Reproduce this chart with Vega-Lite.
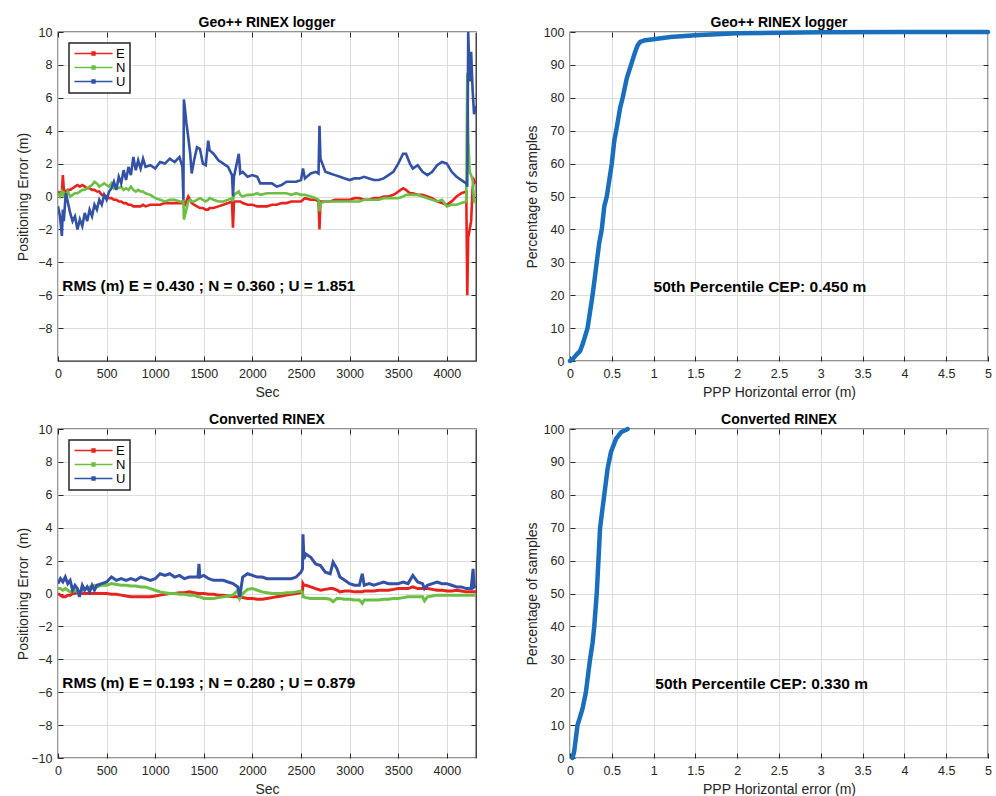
{
  "$schema": "https://vega.github.io/schema/vega-lite/v6.json",
  "background": "white",
  "padding": {"left": 15, "top": 15, "right": 4, "bottom": 2},
  "config": {
    "font": "Liberation Sans",
    "view": {"stroke": "#262626", "strokeWidth": 1.3},
    "axis": {"domain": false, "grid": true, "gridColor": "#dcdcdc", "gridWidth": 1, "ticks": true, "tickColor": "#262626", "tickSize": -5, "tickWidth": 1, "labelColor": "#262626", "labelFontSize": 12.5, "labelPadding": 11, "titleColor": "#262626", "titleFontSize": 14, "titleFontWeight": "normal", "titlePadding": 4, "labelFlush": false, "labelOverlap": false},
    "axisX": {"labelPadding": 11, "titlePadding": 6},
    "title": {"fontSize": 14, "fontWeight": "bold", "color": "#000000", "offset": -4},
    "legend": {"orient": "top-left", "offset": 11, "padding": 4, "strokeColor": "#262626", "strokeWidth": 1.5, "fillColor": "white", "labelFontSize": 13, "labelColor": "#000000", "symbolType": "M-1,0H6.6M2.5,-0.3H3.1V0.3H2.5Z", "symbolSize": 100, "symbolStrokeWidth": 1.4, "labelOffset": 30, "rowPadding": 0, "title": null}
  },
  "datasets": {
    "ts": [
      {"p":"Geo","t":0,"E":0.3,"N":0.2,"U":-0.6},
      {"p":"Geo","t":20,"E":0.2,"N":0.0,"U":-1.2},
      {"p":"Geo","t":40,"E":0.3,"N":0.3,"U":-2.4},
      {"p":"Geo","t":50,"E":1.3,"N":0.1,"U":-0.8},
      {"p":"Geo","t":60,"E":0.4,"N":0.2,"U":-1.5},
      {"p":"Geo","t":80,"E":0.3,"N":-0.1,"U":0.2},
      {"p":"Geo","t":100,"E":0.4,"N":0.3,"U":-0.3},
      {"p":"Geo","t":125,"E":0.4,"N":0.0,"U":-1.0},
      {"p":"Geo","t":150,"E":0.5,"N":0.1,"U":-1.5},
      {"p":"Geo","t":175,"E":0.6,"N":0.2,"U":-1.2},
      {"p":"Geo","t":200,"E":0.7,"N":0.2,"U":-2.0},
      {"p":"Geo","t":225,"E":0.6,"N":0.3,"U":-1.4},
      {"p":"Geo","t":250,"E":0.7,"N":0.4,"U":-1.8},
      {"p":"Geo","t":275,"E":0.6,"N":0.4,"U":-1.0},
      {"p":"Geo","t":300,"E":0.5,"N":0.5,"U":-1.5},
      {"p":"Geo","t":325,"E":0.5,"N":0.6,"U":-0.8},
      {"p":"Geo","t":350,"E":0.4,"N":0.7,"U":-1.2},
      {"p":"Geo","t":375,"E":0.4,"N":0.9,"U":-0.5},
      {"p":"Geo","t":400,"E":0.3,"N":0.8,"U":-0.8},
      {"p":"Geo","t":425,"E":0.3,"N":0.6,"U":-0.2},
      {"p":"Geo","t":450,"E":0.1,"N":0.7,"U":-0.5},
      {"p":"Geo","t":475,"E":0.1,"N":0.8,"U":0.1},
      {"p":"Geo","t":500,"E":0.0,"N":0.7,"U":-0.2},
      {"p":"Geo","t":525,"E":-0.1,"N":0.6,"U":0.3},
      {"p":"Geo","t":550,"E":-0.1,"N":0.8,"U":0.5},
      {"p":"Geo","t":575,"E":-0.2,"N":0.5,"U":0.9},
      {"p":"Geo","t":600,"E":-0.2,"N":0.6,"U":0.4},
      {"p":"Geo","t":625,"E":-0.3,"N":0.5,"U":1.2},
      {"p":"Geo","t":650,"E":-0.3,"N":0.6,"U":0.8},
      {"p":"Geo","t":675,"E":-0.4,"N":0.4,"U":1.6},
      {"p":"Geo","t":700,"E":-0.4,"N":0.5,"U":1.0},
      {"p":"Geo","t":725,"E":-0.5,"N":0.4,"U":1.8},
      {"p":"Geo","t":750,"E":-0.5,"N":0.6,"U":1.3},
      {"p":"Geo","t":775,"E":-0.6,"N":0.4,"U":2.4},
      {"p":"Geo","t":800,"E":-0.6,"N":0.3,"U":1.6},
      {"p":"Geo","t":825,"E":-0.6,"N":0.4,"U":2.2},
      {"p":"Geo","t":850,"E":-0.6,"N":0.3,"U":1.7},
      {"p":"Geo","t":875,"E":-0.5,"N":0.3,"U":2.3},
      {"p":"Geo","t":900,"E":-0.6,"N":0.2,"U":1.8},
      {"p":"Geo","t":950,"E":-0.5,"N":0.1,"U":1.9},
      {"p":"Geo","t":1000,"E":-0.5,"N":-0.1,"U":1.7},
      {"p":"Geo","t":1050,"E":-0.5,"N":-0.2,"U":2.1},
      {"p":"Geo","t":1100,"E":-0.4,"N":-0.3,"U":2.0},
      {"p":"Geo","t":1150,"E":-0.4,"N":-0.2,"U":2.3},
      {"p":"Geo","t":1200,"E":-0.4,"N":-0.2,"U":2.1},
      {"p":"Geo","t":1250,"E":-0.4,"N":-0.3,"U":2.4},
      {"p":"Geo","t":1280,"E":-0.4,"N":-0.3,"U":1.8},
      {"p":"Geo","t":1290,"E":-0.2,"N":-0.3,"U":-0.2},
      {"p":"Geo","t":1295,"E":-0.4,"N":-1.4,"U":5.9},
      {"p":"Geo","t":1305,"E":-0.5,"N":-1.2,"U":5.4},
      {"p":"Geo","t":1320,"E":-0.3,"N":-0.8,"U":4.5},
      {"p":"Geo","t":1340,"E":0.0,"N":-0.3,"U":3.6},
      {"p":"Geo","t":1360,"E":-0.2,"N":-0.2,"U":2.6},
      {"p":"Geo","t":1375,"E":-0.4,"N":-0.3,"U":1.4},
      {"p":"Geo","t":1400,"E":-0.5,"N":-0.3,"U":2.2},
      {"p":"Geo","t":1430,"E":-0.6,"N":-0.2,"U":3.0},
      {"p":"Geo","t":1460,"E":-0.7,"N":-0.1,"U":2.9},
      {"p":"Geo","t":1490,"E":-0.7,"N":-0.2,"U":2.0},
      {"p":"Geo","t":1520,"E":-0.8,"N":-0.3,"U":1.9},
      {"p":"Geo","t":1545,"E":-0.8,"N":-0.2,"U":3.4},
      {"p":"Geo","t":1560,"E":-0.7,"N":-0.1,"U":2.8},
      {"p":"Geo","t":1600,"E":-0.7,"N":-0.2,"U":2.6},
      {"p":"Geo","t":1650,"E":-0.6,"N":-0.3,"U":2.2},
      {"p":"Geo","t":1700,"E":-0.5,"N":-0.3,"U":2.0},
      {"p":"Geo","t":1750,"E":-0.4,"N":-0.2,"U":1.8},
      {"p":"Geo","t":1790,"E":-0.3,"N":-0.1,"U":1.3},
      {"p":"Geo","t":1800,"E":-1.9,"N":-0.3,"U":0.0},
      {"p":"Geo","t":1810,"E":-0.3,"N":0.1,"U":1.2},
      {"p":"Geo","t":1860,"E":-0.3,"N":0.3,"U":2.6},
      {"p":"Geo","t":1875,"E":-0.3,"N":0.1,"U":1.4},
      {"p":"Geo","t":1900,"E":-0.4,"N":0.0,"U":1.5},
      {"p":"Geo","t":1950,"E":-0.5,"N":0.1,"U":1.2},
      {"p":"Geo","t":2000,"E":-0.5,"N":0.1,"U":1.3},
      {"p":"Geo","t":2050,"E":-0.6,"N":0.2,"U":1.2},
      {"p":"Geo","t":2080,"E":-0.6,"N":0.1,"U":0.8},
      {"p":"Geo","t":2150,"E":-0.6,"N":0.2,"U":0.8},
      {"p":"Geo","t":2200,"E":-0.5,"N":0.2,"U":0.8},
      {"p":"Geo","t":2250,"E":-0.5,"N":0.2,"U":0.6},
      {"p":"Geo","t":2300,"E":-0.4,"N":0.2,"U":0.7},
      {"p":"Geo","t":2350,"E":-0.4,"N":0.2,"U":0.9},
      {"p":"Geo","t":2400,"E":-0.3,"N":0.1,"U":0.9},
      {"p":"Geo","t":2450,"E":-0.3,"N":0.2,"U":0.9},
      {"p":"Geo","t":2500,"E":-0.3,"N":0.1,"U":1.0},
      {"p":"Geo","t":2520,"E":-0.2,"N":0.1,"U":1.7},
      {"p":"Geo","t":2540,"E":-0.1,"N":0.1,"U":1.1},
      {"p":"Geo","t":2600,"E":-0.2,"N":0.0,"U":1.4},
      {"p":"Geo","t":2650,"E":-0.2,"N":-0.1,"U":1.5},
      {"p":"Geo","t":2680,"E":-0.3,"N":-0.2,"U":1.4},
      {"p":"Geo","t":2690,"E":-2.0,"N":-0.9,"U":4.3},
      {"p":"Geo","t":2700,"E":-0.3,"N":-0.4,"U":2.3},
      {"p":"Geo","t":2750,"E":-0.3,"N":-0.3,"U":1.5},
      {"p":"Geo","t":2800,"E":-0.3,"N":-0.3,"U":1.4},
      {"p":"Geo","t":2850,"E":-0.2,"N":-0.3,"U":1.3},
      {"p":"Geo","t":2900,"E":-0.2,"N":-0.3,"U":1.2},
      {"p":"Geo","t":2950,"E":-0.2,"N":-0.3,"U":1.1},
      {"p":"Geo","t":3000,"E":-0.2,"N":-0.3,"U":1.0},
      {"p":"Geo","t":3050,"E":-0.1,"N":-0.3,"U":1.1},
      {"p":"Geo","t":3100,"E":-0.1,"N":-0.3,"U":1.1},
      {"p":"Geo","t":3150,"E":-0.2,"N":-0.2,"U":1.2},
      {"p":"Geo","t":3200,"E":-0.2,"N":-0.2,"U":1.1},
      {"p":"Geo","t":3250,"E":-0.1,"N":-0.2,"U":1.0},
      {"p":"Geo","t":3300,"E":-0.1,"N":-0.2,"U":1.0},
      {"p":"Geo","t":3350,"E":0.0,"N":-0.1,"U":1.1},
      {"p":"Geo","t":3400,"E":0.0,"N":-0.1,"U":1.3},
      {"p":"Geo","t":3450,"E":0.1,"N":-0.1,"U":1.5},
      {"p":"Geo","t":3480,"E":0.2,"N":-0.1,"U":1.8},
      {"p":"Geo","t":3500,"E":0.3,"N":-0.1,"U":2.0},
      {"p":"Geo","t":3550,"E":0.5,"N":0.0,"U":2.6},
      {"p":"Geo","t":3580,"E":0.4,"N":0.1,"U":2.6},
      {"p":"Geo","t":3620,"E":0.2,"N":0.1,"U":2.0},
      {"p":"Geo","t":3650,"E":0.2,"N":0.1,"U":1.7},
      {"p":"Geo","t":3700,"E":0.1,"N":0.1,"U":1.9},
      {"p":"Geo","t":3750,"E":0.1,"N":0.0,"U":1.5},
      {"p":"Geo","t":3800,"E":0.0,"N":-0.1,"U":1.3},
      {"p":"Geo","t":3850,"E":-0.1,"N":-0.2,"U":1.5},
      {"p":"Geo","t":3900,"E":-0.3,"N":-0.3,"U":1.9},
      {"p":"Geo","t":3950,"E":-0.4,"N":-0.2,"U":2.1},
      {"p":"Geo","t":4000,"E":-0.5,"N":-0.6,"U":2.0},
      {"p":"Geo","t":4050,"E":-0.3,"N":-0.5,"U":1.5},
      {"p":"Geo","t":4100,"E":0.0,"N":-0.5,"U":1.2},
      {"p":"Geo","t":4150,"E":0.2,"N":-0.4,"U":1.0},
      {"p":"Geo","t":4200,"E":0.3,"N":-0.3,"U":0.8},
      {"p":"Geo","t":4210,"E":-6.0,"N":7.5,"U":0.6},
      {"p":"Geo","t":4220,"E":-2.5,"N":3.5,"U":10.0},
      {"p":"Geo","t":4235,"E":-2.0,"N":1.5,"U":7.0},
      {"p":"Geo","t":4250,"E":-1.5,"N":1.3,"U":8.8},
      {"p":"Geo","t":4265,"E":0.5,"N":1.0,"U":6.5},
      {"p":"Geo","t":4280,"E":1.0,"N":-0.3,"U":5.0},
      {"p":"Geo","t":4300,"E":0.8,"N":-0.4,"U":5.5},
      {"p":"Conv","t":0,"E":0.0,"N":0.3,"U":0.6},
      {"p":"Conv","t":25,"E":-0.1,"N":0.3,"U":0.9},
      {"p":"Conv","t":50,"E":-0.2,"N":0.2,"U":0.7},
      {"p":"Conv","t":75,"E":-0.2,"N":0.3,"U":1.0},
      {"p":"Conv","t":100,"E":-0.1,"N":0.2,"U":0.6},
      {"p":"Conv","t":125,"E":-0.1,"N":0.1,"U":0.8},
      {"p":"Conv","t":150,"E":0.0,"N":0.1,"U":0.2},
      {"p":"Conv","t":175,"E":0.0,"N":0.2,"U":0.5},
      {"p":"Conv","t":200,"E":0.05,"N":0.1,"U":0.3},
      {"p":"Conv","t":220,"E":0.0,"N":0.0,"U":-0.2},
      {"p":"Conv","t":250,"E":0.0,"N":0.2,"U":0.5},
      {"p":"Conv","t":275,"E":0.0,"N":0.3,"U":0.2},
      {"p":"Conv","t":300,"E":0.0,"N":0.3,"U":0.4},
      {"p":"Conv","t":325,"E":0.0,"N":0.4,"U":0.1},
      {"p":"Conv","t":350,"E":0.0,"N":0.4,"U":0.5},
      {"p":"Conv","t":375,"E":0.0,"N":0.5,"U":0.2},
      {"p":"Conv","t":400,"E":0.0,"N":0.4,"U":0.5},
      {"p":"Conv","t":450,"E":0.0,"N":0.5,"U":0.6},
      {"p":"Conv","t":500,"E":0.0,"N":0.5,"U":0.7},
      {"p":"Conv","t":550,"E":-0.05,"N":0.6,"U":1.0},
      {"p":"Conv","t":600,"E":-0.05,"N":0.55,"U":0.8},
      {"p":"Conv","t":650,"E":-0.1,"N":0.5,"U":0.9},
      {"p":"Conv","t":700,"E":-0.15,"N":0.5,"U":0.8},
      {"p":"Conv","t":750,"E":-0.2,"N":0.45,"U":0.9},
      {"p":"Conv","t":800,"E":-0.2,"N":0.45,"U":0.8},
      {"p":"Conv","t":850,"E":-0.2,"N":0.4,"U":1.0},
      {"p":"Conv","t":900,"E":-0.2,"N":0.4,"U":0.9},
      {"p":"Conv","t":950,"E":-0.2,"N":0.3,"U":0.8},
      {"p":"Conv","t":1000,"E":-0.15,"N":0.2,"U":0.9},
      {"p":"Conv","t":1050,"E":-0.1,"N":0.1,"U":1.2},
      {"p":"Conv","t":1100,"E":-0.05,"N":0.05,"U":1.1},
      {"p":"Conv","t":1150,"E":0.0,"N":0.0,"U":1.2},
      {"p":"Conv","t":1200,"E":0.0,"N":0.0,"U":1.0},
      {"p":"Conv","t":1250,"E":0.05,"N":-0.05,"U":1.1},
      {"p":"Conv","t":1300,"E":0.05,"N":-0.05,"U":0.9},
      {"p":"Conv","t":1350,"E":0.1,"N":-0.1,"U":1.0},
      {"p":"Conv","t":1400,"E":0.05,"N":-0.1,"U":1.0},
      {"p":"Conv","t":1440,"E":0.0,"N":-0.2,"U":1.0},
      {"p":"Conv","t":1450,"E":0.0,"N":-0.2,"U":1.8},
      {"p":"Conv","t":1460,"E":0.0,"N":-0.2,"U":1.0},
      {"p":"Conv","t":1500,"E":0.0,"N":-0.3,"U":1.1},
      {"p":"Conv","t":1550,"E":-0.05,"N":-0.3,"U":0.9},
      {"p":"Conv","t":1600,"E":-0.05,"N":-0.3,"U":0.8},
      {"p":"Conv","t":1650,"E":-0.1,"N":-0.25,"U":0.8},
      {"p":"Conv","t":1700,"E":-0.1,"N":-0.2,"U":0.8},
      {"p":"Conv","t":1750,"E":-0.15,"N":-0.15,"U":0.7},
      {"p":"Conv","t":1800,"E":-0.2,"N":-0.1,"U":0.6},
      {"p":"Conv","t":1850,"E":-0.2,"N":0.2,"U":0.4},
      {"p":"Conv","t":1870,"E":-0.25,"N":-0.3,"U":-0.2},
      {"p":"Conv","t":1900,"E":-0.25,"N":0.0,"U":1.0},
      {"p":"Conv","t":1950,"E":-0.3,"N":0.25,"U":1.2},
      {"p":"Conv","t":2000,"E":-0.3,"N":0.3,"U":1.1},
      {"p":"Conv","t":2050,"E":-0.35,"N":0.2,"U":1.0},
      {"p":"Conv","t":2100,"E":-0.35,"N":0.1,"U":1.0},
      {"p":"Conv","t":2150,"E":-0.3,"N":0.05,"U":0.9},
      {"p":"Conv","t":2200,"E":-0.25,"N":0.0,"U":0.9},
      {"p":"Conv","t":2250,"E":-0.2,"N":0.0,"U":0.9},
      {"p":"Conv","t":2300,"E":-0.15,"N":0.0,"U":0.9},
      {"p":"Conv","t":2350,"E":-0.1,"N":0.05,"U":0.9},
      {"p":"Conv","t":2400,"E":-0.05,"N":0.05,"U":0.9},
      {"p":"Conv","t":2450,"E":0.0,"N":0.1,"U":1.0},
      {"p":"Conv","t":2500,"E":0.05,"N":0.15,"U":1.3},
      {"p":"Conv","t":2515,"E":0.1,"N":0.1,"U":1.5},
      {"p":"Conv","t":2520,"E":0.6,"N":-0.2,"U":3.6},
      {"p":"Conv","t":2530,"E":0.5,"N":-0.2,"U":2.1},
      {"p":"Conv","t":2550,"E":0.5,"N":-0.25,"U":2.4},
      {"p":"Conv","t":2600,"E":0.4,"N":-0.3,"U":2.2},
      {"p":"Conv","t":2650,"E":0.3,"N":-0.3,"U":1.8},
      {"p":"Conv","t":2700,"E":0.2,"N":-0.3,"U":1.7},
      {"p":"Conv","t":2750,"E":0.25,"N":-0.3,"U":1.3},
      {"p":"Conv","t":2800,"E":0.3,"N":-0.35,"U":1.2},
      {"p":"Conv","t":2830,"E":0.3,"N":-0.5,"U":1.9},
      {"p":"Conv","t":2870,"E":0.2,"N":-0.3,"U":1.5},
      {"p":"Conv","t":2900,"E":0.1,"N":-0.3,"U":1.0},
      {"p":"Conv","t":2950,"E":0.15,"N":-0.35,"U":0.8},
      {"p":"Conv","t":3000,"E":0.15,"N":-0.35,"U":0.6},
      {"p":"Conv","t":3050,"E":0.1,"N":-0.4,"U":0.5},
      {"p":"Conv","t":3100,"E":0.1,"N":-0.4,"U":0.5},
      {"p":"Conv","t":3130,"E":0.1,"N":-0.6,"U":1.2},
      {"p":"Conv","t":3150,"E":0.15,"N":-0.4,"U":0.5},
      {"p":"Conv","t":3200,"E":0.15,"N":-0.4,"U":0.6},
      {"p":"Conv","t":3250,"E":0.15,"N":-0.4,"U":0.5},
      {"p":"Conv","t":3300,"E":0.2,"N":-0.4,"U":0.6},
      {"p":"Conv","t":3350,"E":0.2,"N":-0.35,"U":0.7},
      {"p":"Conv","t":3400,"E":0.2,"N":-0.35,"U":0.6},
      {"p":"Conv","t":3450,"E":0.25,"N":-0.3,"U":0.6},
      {"p":"Conv","t":3500,"E":0.3,"N":-0.3,"U":0.6},
      {"p":"Conv","t":3550,"E":0.3,"N":-0.25,"U":0.7},
      {"p":"Conv","t":3600,"E":0.3,"N":-0.2,"U":0.6},
      {"p":"Conv","t":3650,"E":0.4,"N":-0.2,"U":1.1},
      {"p":"Conv","t":3700,"E":0.3,"N":-0.2,"U":0.7},
      {"p":"Conv","t":3750,"E":0.3,"N":-0.2,"U":0.6},
      {"p":"Conv","t":3770,"E":0.3,"N":-0.45,"U":0.3},
      {"p":"Conv","t":3800,"E":0.3,"N":-0.2,"U":0.5},
      {"p":"Conv","t":3850,"E":0.25,"N":-0.15,"U":0.6},
      {"p":"Conv","t":3900,"E":0.2,"N":-0.1,"U":0.7},
      {"p":"Conv","t":3950,"E":0.2,"N":-0.1,"U":0.6},
      {"p":"Conv","t":4000,"E":0.15,"N":-0.1,"U":0.6},
      {"p":"Conv","t":4050,"E":0.15,"N":-0.1,"U":0.5},
      {"p":"Conv","t":4100,"E":0.2,"N":-0.1,"U":0.4},
      {"p":"Conv","t":4150,"E":0.15,"N":-0.1,"U":0.4},
      {"p":"Conv","t":4200,"E":0.1,"N":-0.1,"U":0.3},
      {"p":"Conv","t":4250,"E":0.1,"N":-0.1,"U":0.3},
      {"p":"Conv","t":4270,"E":0.1,"N":-0.1,"U":1.5},
      {"p":"Conv","t":4280,"E":0.1,"N":-0.1,"U":0.4},
      {"p":"Conv","t":4300,"E":0.1,"N":-0.1,"U":0.5}
    ],
    "cdf": [
      {"p":"Geo","x":0,"y":0},{"p":"Geo","x":0.03,"y":0.5},{"p":"Geo","x":0.08,"y":2},{"p":"Geo","x":0.12,"y":3},{"p":"Geo","x":0.15,"y":5},{"p":"Geo","x":0.18,"y":7.5},{"p":"Geo","x":0.21,"y":10},{"p":"Geo","x":0.24,"y":15},{"p":"Geo","x":0.27,"y":20},{"p":"Geo","x":0.3,"y":26},{"p":"Geo","x":0.32,"y":30},{"p":"Geo","x":0.35,"y":36},{"p":"Geo","x":0.38,"y":40},{"p":"Geo","x":0.41,"y":47},{"p":"Geo","x":0.44,"y":50},{"p":"Geo","x":0.47,"y":55},{"p":"Geo","x":0.5,"y":60},{"p":"Geo","x":0.53,"y":67},{"p":"Geo","x":0.56,"y":71},{"p":"Geo","x":0.6,"y":77},{"p":"Geo","x":0.63,"y":80},{"p":"Geo","x":0.68,"y":86},{"p":"Geo","x":0.73,"y":90},{"p":"Geo","x":0.78,"y":94},{"p":"Geo","x":0.81,"y":96},{"p":"Geo","x":0.84,"y":97},{"p":"Geo","x":0.9,"y":97.5},{"p":"Geo","x":1.0,"y":97.8},{"p":"Geo","x":1.2,"y":98.5},{"p":"Geo","x":1.5,"y":99},{"p":"Geo","x":2.0,"y":99.6},{"p":"Geo","x":2.5,"y":99.8},{"p":"Geo","x":3.0,"y":99.9},{"p":"Geo","x":4.0,"y":100},{"p":"Geo","x":5.0,"y":100},
      {"p":"Conv","x":0.03,"y":0},{"p":"Conv","x":0.05,"y":2},{"p":"Conv","x":0.07,"y":6},{"p":"Conv","x":0.09,"y":10},{"p":"Conv","x":0.15,"y":15},{"p":"Conv","x":0.19,"y":20},{"p":"Conv","x":0.24,"y":30},{"p":"Conv","x":0.27,"y":35},{"p":"Conv","x":0.29,"y":40},{"p":"Conv","x":0.32,"y":50},{"p":"Conv","x":0.34,"y":60},{"p":"Conv","x":0.36,"y":70},{"p":"Conv","x":0.41,"y":80},{"p":"Conv","x":0.45,"y":88},{"p":"Conv","x":0.49,"y":93},{"p":"Conv","x":0.55,"y":97},{"p":"Conv","x":0.61,"y":99},{"p":"Conv","x":0.69,"y":100}
    ]
  },
  "columns": 2,
  "spacing": {"row": 68, "column": 94},
  "bounds": "flush",
  "resolve": {"scale": {"color": "independent"}, "legend": {"color": "independent"}},
  "concat": [
    {
      "width": 418, "height": 329,
      "title": "Geo++ RINEX logger",
      "resolve": {"axis": {"x": "independent", "y": "independent"}},
      "layer": [
        {
          "data": {"name": "ts"},
          "transform": [{"filter": "datum.p === 'Geo'"}, {"fold": ["E", "N", "U"], "as": ["comp", "err"]}],
          "mark": {"type": "line", "strokeWidth": 2.6, "clip": true},
          "encoding": {
            "x": {"field": "t", "type": "quantitative", "scale": {"domain": [0, 4300], "nice": false}, "axis": {"title": "Sec", "values": [0,500,1000,1500,2000,2500,3000,3500,4000], "tickCount": 20, "format": "d", "labelOverlap": false}},
            "y": {"field": "err", "type": "quantitative", "scale": {"domain": [-10, 10], "nice": false}, "axis": {"title": "Positioning Error (m)", "values": [-8,-6,-4,-2,0,2,4,6,8,10], "tickCount": 20, "titleX": -28, "labelOverlap": false}},
            "color": {"field": "comp", "type": "nominal", "scale": {"domain": ["E","N","U"], "range": ["#e8221c", "#6cbf44", "#3352a6"]}}
          }
        },
        {
          "data": {"values": [{}]},
          "mark": {"type": "text", "align": "left", "baseline": "middle", "fontSize": 15.3, "fontWeight": "bold", "color": "#000000"},
          "encoding": {
            "x": {"datum": 45, "type": "quantitative", "axis": {"orient": "top", "labels": false, "title": null, "grid": false, "values": [0,500,1000,1500,2000,2500,3000,3500,4000], "tickCount": 20}},
            "y": {"datum": -5.45, "type": "quantitative", "axis": {"orient": "right", "labels": false, "title": null, "grid": false, "values": [-8,-6,-4,-2,0,2,4,6,8], "tickCount": 20}},
            "text": {"value": "RMS (m) E = 0.430 ; N = 0.360 ; U = 1.851"}
          }
        }
      ]
    },
    {
      "width": 418, "height": 329,
      "title": "Geo++ RINEX logger",
      "resolve": {"axis": {"x": "independent", "y": "independent"}},
      "layer": [
        {
          "data": {"name": "cdf"},
          "transform": [{"filter": "datum.p === 'Geo'"}],
          "mark": {"type": "line", "strokeWidth": 4.5, "color": "#1a6fbd", "strokeCap": "round", "strokeJoin": "round", "clip": false},
          "encoding": {
            "x": {"field": "x", "type": "quantitative", "scale": {"domain": [0, 5], "nice": false}, "axis": {"title": "PPP Horizontal error (m)", "values": [0,0.5,1,1.5,2,2.5,3,3.5,4,4.5,5], "tickCount": 20, "format": "~f", "labelOverlap": false}},
            "y": {"field": "y", "type": "quantitative", "scale": {"domain": [0, 100], "nice": false}, "axis": {"title": "Percentage of samples", "values": [0,10,20,30,40,50,60,70,80,90,100], "tickCount": 20, "titleX": -31, "labelOverlap": false}}
          }
        },
        {
          "data": {"values": [{}]},
          "mark": {"type": "text", "align": "left", "baseline": "middle", "fontSize": 15.5, "fontWeight": "bold", "color": "#000000"},
          "encoding": {
            "x": {"datum": 1.0, "type": "quantitative", "axis": {"orient": "top", "labels": false, "title": null, "grid": false, "values": [0.5,1,1.5,2,2.5,3,3.5,4,4.5], "tickCount": 20}},
            "y": {"datum": 22.6, "type": "quantitative", "axis": {"orient": "right", "labels": false, "title": null, "grid": false, "values": [10,20,30,40,50,60,70,80,90], "tickCount": 20}},
            "text": {"value": "50th Percentile CEP: 0.450 m"}
          }
        }
      ]
    },
    {
      "width": 418, "height": 329,
      "title": "Converted RINEX",
      "resolve": {"axis": {"x": "independent", "y": "independent"}},
      "layer": [
        {
          "data": {"name": "ts"},
          "transform": [{"filter": "datum.p === 'Conv'"}, {"fold": ["E", "N", "U"], "as": ["comp", "err"]}],
          "mark": {"type": "line", "strokeWidth": 3, "clip": true},
          "encoding": {
            "x": {"field": "t", "type": "quantitative", "scale": {"domain": [0, 4300], "nice": false}, "axis": {"title": "Sec", "values": [0,500,1000,1500,2000,2500,3000,3500,4000], "tickCount": 20, "format": "d", "labelOverlap": false}},
            "y": {"field": "err", "type": "quantitative", "scale": {"domain": [-10, 10], "nice": false}, "axis": {"title": "Positioning Error\u00a0 (m)", "values": [-10,-8,-6,-4,-2,0,2,4,6,8,10], "tickCount": 20, "titleX": -28, "labelOverlap": false}},
            "color": {"field": "comp", "type": "nominal", "scale": {"domain": ["E","N","U"], "range": ["#e8221c", "#6cbf44", "#3352a6"]}}
          }
        },
        {
          "data": {"values": [{}]},
          "mark": {"type": "text", "align": "left", "baseline": "middle", "fontSize": 15.3, "fontWeight": "bold", "color": "#000000"},
          "encoding": {
            "x": {"datum": 45, "type": "quantitative", "axis": {"orient": "top", "labels": false, "title": null, "grid": false, "values": [0,500,1000,1500,2000,2500,3000,3500,4000], "tickCount": 20}},
            "y": {"datum": -5.42, "type": "quantitative", "axis": {"orient": "right", "labels": false, "title": null, "grid": false, "values": [-8,-6,-4,-2,0,2,4,6,8], "tickCount": 20}},
            "text": {"value": "RMS (m) E = 0.193 ; N = 0.280 ; U = 0.879"}
          }
        }
      ]
    },
    {
      "width": 418, "height": 329,
      "title": "Converted RINEX",
      "resolve": {"axis": {"x": "independent", "y": "independent"}},
      "layer": [
        {
          "data": {"name": "cdf"},
          "transform": [{"filter": "datum.p === 'Conv'"}],
          "mark": {"type": "line", "strokeWidth": 4.5, "color": "#1a6fbd", "strokeCap": "round", "strokeJoin": "round", "clip": false},
          "encoding": {
            "x": {"field": "x", "type": "quantitative", "scale": {"domain": [0, 5], "nice": false}, "axis": {"title": "PPP Horizontal error (m)", "values": [0,0.5,1,1.5,2,2.5,3,3.5,4,4.5,5], "tickCount": 20, "format": "~f", "labelOverlap": false}},
            "y": {"field": "y", "type": "quantitative", "scale": {"domain": [0, 100], "nice": false}, "axis": {"title": "Percentage of samples", "values": [0,10,20,30,40,50,60,70,80,90,100], "tickCount": 20, "titleX": -31, "labelOverlap": false}}
          }
        },
        {
          "data": {"values": [{}]},
          "mark": {"type": "text", "align": "left", "baseline": "middle", "fontSize": 15.5, "fontWeight": "bold", "color": "#000000"},
          "encoding": {
            "x": {"datum": 1.02, "type": "quantitative", "axis": {"orient": "top", "labels": false, "title": null, "grid": false, "values": [0.5,1,1.5,2,2.5,3,3.5,4,4.5], "tickCount": 20}},
            "y": {"datum": 22.6, "type": "quantitative", "axis": {"orient": "right", "labels": false, "title": null, "grid": false, "values": [10,20,30,40,50,60,70,80,90], "tickCount": 20}},
            "text": {"value": "50th Percentile CEP: 0.330 m"}
          }
        }
      ]
    }
  ]
}
